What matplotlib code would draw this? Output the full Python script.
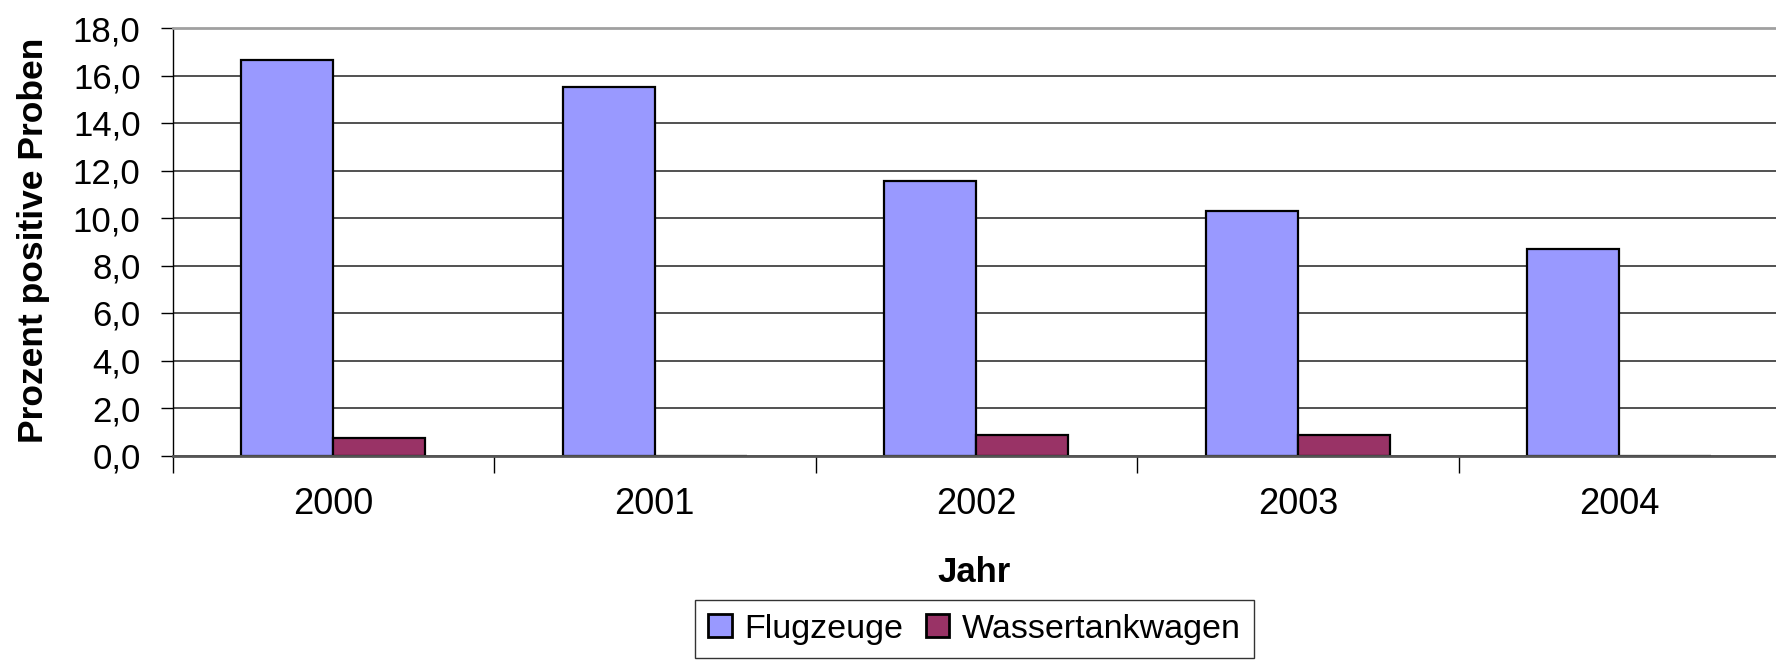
import numpy as np
import matplotlib
matplotlib.use('Agg')
import matplotlib.pyplot as plt
from matplotlib.ticker import FixedLocator

plt.rcParams['font.family'] = ['Liberation Sans', 'DejaVu Sans']

# Daten
jahre = ['2000', '2001', '2002', '2003', '2004']
flugzeuge = [16.65, 15.5, 11.55, 10.3, 8.7]
wassertankwagen = [0.73, 0.0, 0.87, 0.87, 0.0]
y_ticks = [0, 2, 4, 6, 8, 10, 12, 14, 16, 18]

fig = plt.figure(figsize=(17.76, 6.61), dpi=100)
ax = fig.add_axes([172.5 / 1776, 1 - 455.5 / 661, (1780 - 172.5) / 1776, (455.5 - 28) / 661])

x = np.arange(len(jahre))
w = 0.286
ax.bar(x - w / 2, flugzeuge, w, color='#9999FF', edgecolor='black', linewidth=1.6,
       label='Flugzeuge', zorder=3)
ax.bar(x + w / 2, wassertankwagen, w, color='#993366', edgecolor='black', linewidth=1.6,
       label='Wassertankwagen', zorder=3)

ax.set_xlim(-0.5, len(jahre) - 0.5)
ax.set_ylim(0, 18)
ax.set_yticks(y_ticks)
ax.set_yticklabels([f'{v:.1f}'.replace('.', ',') for v in y_ticks], fontsize=25)
ax.tick_params(axis='y', length=9, width=1, pad=14, direction='out')

# Jahreslabels in der Mitte, Striche an den Grenzen
ax.set_xticks(x)
ax.set_xticklabels(jahre, fontsize=26)
ax.tick_params(axis='x', which='major', length=0, pad=23)
ax.xaxis.set_minor_locator(FixedLocator(np.arange(-0.5, len(jahre), 1.0)))
ax.tick_params(axis='x', which='minor', length=12, width=1, direction='out')

ax.grid(axis='y', color='#222222', linewidth=1.1, zorder=0)
ax.set_axisbelow(True)
ax.spines['right'].set_visible(False)
ax.spines['top'].set_color('#a0a0a0')
ax.spines['top'].set_linewidth(2)
ax.spines['bottom'].set_color('#555555')
ax.spines['bottom'].set_linewidth(2)
ax.spines['bottom'].set_zorder(4)
ax.spines['left'].set_color('black')
ax.spines['left'].set_linewidth(1)

fig.text(34 / 1776, 1 - 240 / 661, 'Prozent positive Proben', rotation=90, fontsize=25.5,
         fontweight='bold', ha='center', va='center')
fig.text(974 / 1776, 1 - 573 / 661, 'Jahr', fontsize=25, fontweight='bold',
         ha='center', va='center')

leg = fig.legend(loc='upper center', bbox_to_anchor=(974.5 / 1776, 1 - 600 / 661), ncol=2,
                 fontsize=24.5, frameon=True, fancybox=False, edgecolor='black',
                 handlelength=0.68, handleheight=0.68, handletextpad=0.38, columnspacing=0.65,
                 borderpad=0.4, borderaxespad=0)
leg.get_frame().set_linewidth(1)
for h in leg.legend_handles:
    h.set_linewidth(2)

fig.savefig('out.png', dpi=100)
